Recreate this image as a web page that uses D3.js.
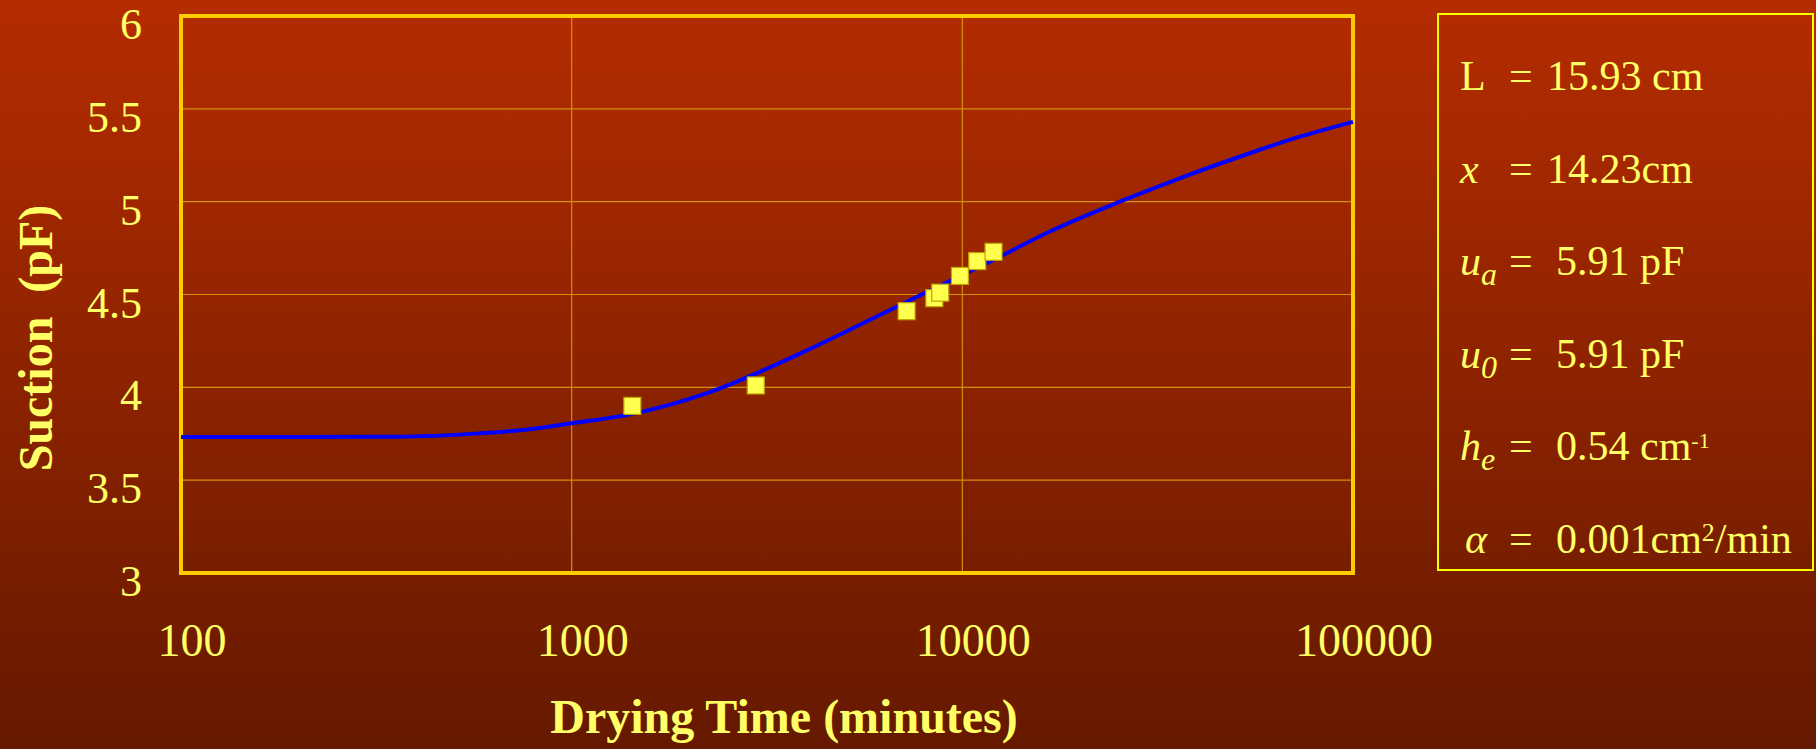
<!DOCTYPE html>
<html>
<head>
<meta charset="utf-8">
<script src="https://cdn.jsdelivr.net/npm/d3@7"></script>
<style>
  body { margin: 0; background: #6a1a00; }
  svg { display: block; }
  text { font-family: "Liberation Serif", "Times New Roman", serif; fill: #ffff66; }
</style>
</head>
<body>
<div id="chart"></div>
<script>
// axis ticks
const timeTicks = [100, 1000, 10000, 100000];
const suctionTicks = [3, 3.5, 4, 4.5, 5, 5.5, 6];

// measured points
const measTime = [1430, 2960, 7200, 8480, 8780, 9860, 10920, 12020];
const measSuction = [3.90, 4.01, 4.41, 4.48, 4.51, 4.60, 4.68, 4.73];

// fitted curve
const fitTime = [100, 200, 356, 580, 780, 1000, 1430, 2250, 3830, 5150, 7200, 12500, 16700, 25300, 36000, 51300, 73100, 100000];
const fitSuction = [3.733, 3.733, 3.734, 3.752, 3.774, 3.806, 3.857, 3.973, 4.18, 4.31, 4.46, 4.705, 4.838, 5.0, 5.126, 5.242, 5.35, 5.43];

// parameter box
const paramSymbols = ["L", "x", "u", "u", "h", "\u03b1"];
const paramSubs = ["", "", "a", "0", "e", ""];
const paramValues = ["15.93 cm", "14.23cm", "5.91 pF", "5.91 pF", "0.54 cm", "0.001cm"];
const paramSups = ["", "", "", "", "-1", "2"];
const paramTails = ["", "", "", "", "", "/min"];

const width = 1816, height = 749;
const plot = { left: 181, right: 1353, top: 16, bottom: 573 };

const svg = d3.select("#chart").append("svg")
    .attr("width", width)
    .attr("height", height);

const grad = svg.append("defs").append("linearGradient")
    .attr("id", "bg").attr("x1", 0).attr("y1", 0).attr("x2", 0).attr("y2", 1);
grad.append("stop").attr("offset", "0%").attr("stop-color", "#b52c00");
grad.append("stop").attr("offset", "100%").attr("stop-color", "#651900");

svg.append("rect").attr("width", width).attr("height", height).attr("fill", "url(#bg)");

const x = d3.scaleLog().domain([100, 100000]).range([plot.left, plot.right]);
const y = d3.scaleLinear().domain([3, 6]).range([plot.bottom, plot.top]);

// gridlines
svg.append("g").selectAll("line")
    .data(timeTicks.slice(1, -1))
    .enter().append("line")
    .attr("x1", d => x(d)).attr("x2", d => x(d))
    .attr("y1", plot.top).attr("y2", plot.bottom)
    .attr("stroke", "#d09010").attr("stroke-width", 1.2);

svg.append("g").selectAll("line")
    .data(suctionTicks.slice(1, -1))
    .enter().append("line")
    .attr("x1", plot.left).attr("x2", plot.right)
    .attr("y1", d => y(d)).attr("y2", d => y(d))
    .attr("stroke", "#d09010").attr("stroke-width", 1.2);

// frame
svg.append("rect")
    .attr("x", plot.left).attr("y", plot.top)
    .attr("width", plot.right - plot.left).attr("height", plot.bottom - plot.top)
    .attr("fill", "none").attr("stroke", "#ffcc00").attr("stroke-width", 4);

// tick labels
svg.append("g").selectAll("text")
    .data(suctionTicks)
    .enter().append("text")
    .attr("x", 142)
    .attr("y", d => y(d) + 23)
    .attr("text-anchor", "end")
    .attr("font-size", 44)
    .text(d => d);

svg.append("g").selectAll("text")
    .data(timeTicks)
    .enter().append("text")
    .attr("x", d => x(d) + 11)
    .attr("y", plot.bottom + 83)
    .attr("text-anchor", "middle")
    .attr("font-size", 46)
    .text(d => d);

// axis titles
svg.append("text")
    .attr("x", 784).attr("y", 733)
    .attr("text-anchor", "middle")
    .attr("font-size", 48).attr("font-weight", "bold")
    .text("Drying Time (minutes)");

svg.append("text")
    .attr("transform", "translate(52,338) rotate(-90)")
    .attr("text-anchor", "middle")
    .attr("font-size", 48).attr("font-weight", "bold")
    .style("white-space", "pre")
    .text("Suction  (pF)");

// fitted curve
const line = d3.line()
    .x(d => x(d[0]))
    .y(d => y(d[1]))
    .curve(d3.curveMonotoneX);

svg.append("path")
    .datum(fitTime.map((t, i) => [t, fitSuction[i]]))
    .attr("d", line)
    .attr("fill", "none")
    .attr("stroke", "#0000ff")
    .attr("stroke-width", 4);

// measured points
const sz = 17;
svg.append("g").selectAll("rect")
    .data(measTime.map((t, i) => [t, measSuction[i]]))
    .enter().append("rect")
    .attr("x", d => x(d[0]) - sz / 2)
    .attr("y", d => y(d[1]) - sz / 2)
    .attr("width", sz).attr("height", sz)
    .attr("fill", "#ffff50")
    .attr("stroke", "#c0a400")
    .attr("stroke-width", 1.2);

// parameter box
svg.append("rect")
    .attr("x", 1438).attr("y", 14)
    .attr("width", 375).attr("height", 556)
    .attr("fill", "none").attr("stroke", "#ffff00").attr("stroke-width", 2);

const rowY = i => 90 + i * 92.6;
const rows = svg.append("g").selectAll("text")
    .data(paramSymbols)
    .enter().append("text")
    .attr("y", (d, i) => rowY(i))
    .attr("font-size", 42)
    .style("white-space", "pre");

rows.append("tspan")
    .attr("x", (d, i) => i === 5 ? 1465 : 1460)
    .attr("font-style", (d, i) => i === 0 ? "normal" : "italic")
    .text(d => d);

rows.append("tspan")
    .attr("dy", (d, i) => paramSubs[i] ? 10 : 0)
    .attr("font-size", 32)
    .attr("font-style", "italic")
    .text((d, i) => paramSubs[i]);

rows.append("tspan")
    .attr("x", 1509)
    .attr("y", (d, i) => rowY(i))
    .text("=");

rows.append("tspan")
    .attr("x", (d, i) => i < 2 ? 1547 : 1556)
    .text((d, i) => paramValues[i]);

rows.append("tspan")
    .attr("dy", (d, i) => paramSups[i] ? -12 : 0)
    .attr("font-size", (d, i) => i === 4 ? 22 : 26)
    .text((d, i) => paramSups[i]);

rows.append("tspan")
    .attr("y", (d, i) => rowY(i))
    .text((d, i) => paramTails[i]);
</script>
</body>
</html>
